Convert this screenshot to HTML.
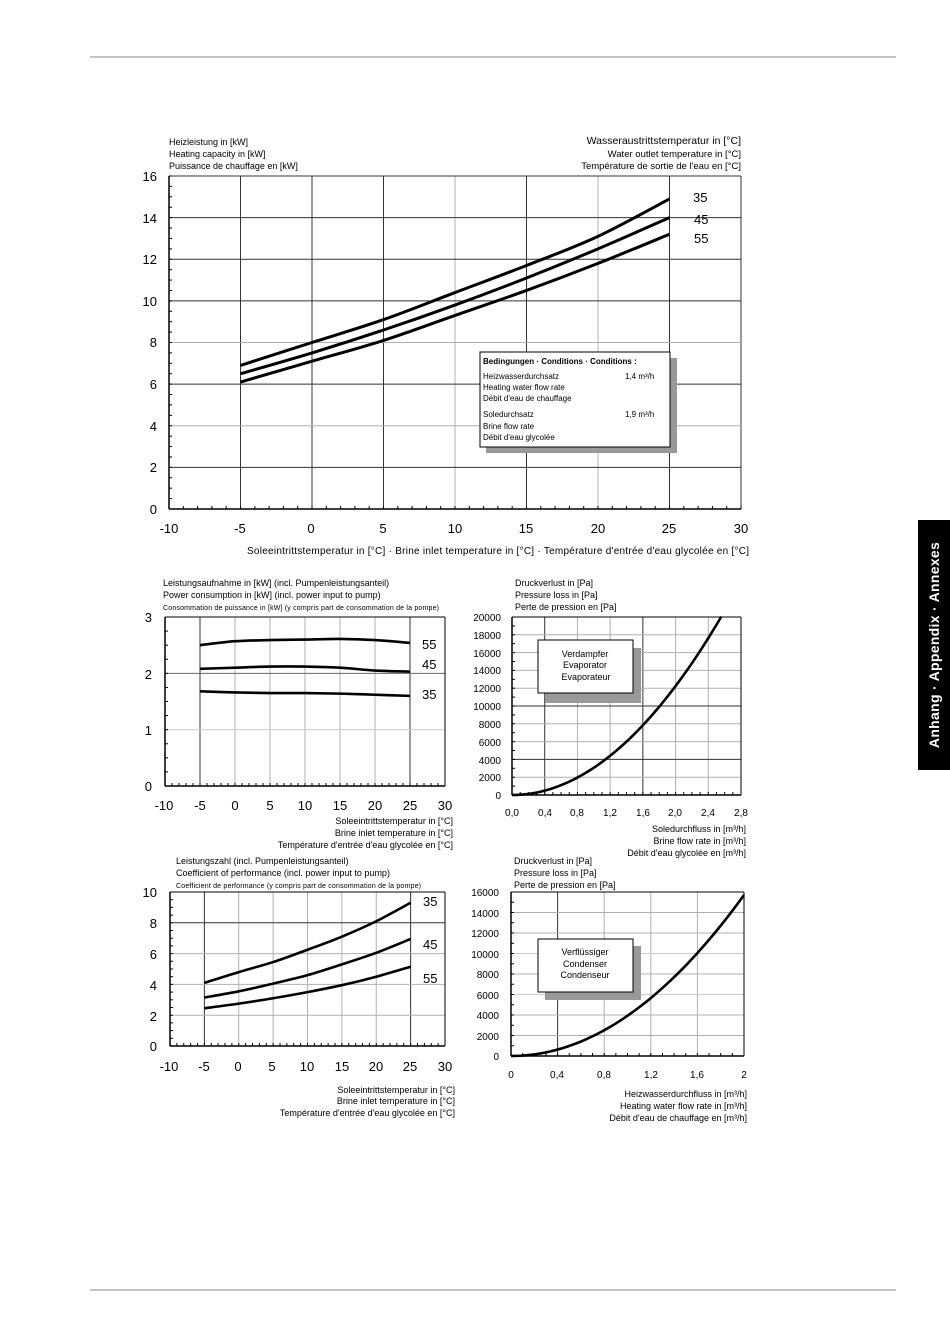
<!DOCTYPE html>
<html><head><meta charset="utf-8"><style>
body{margin:0;background:#fff}
svg{display:block}
text{font-family:"Liberation Sans",sans-serif;fill:#000}
.s{font-size:9px}.m{font-size:13px}.c{font-size:7.5px}.l{font-size:10px}
</style></head><body>
<svg id="g" width="950" height="1344" viewBox="0 0 950 1344" xmlns="http://www.w3.org/2000/svg">
<rect width="950" height="1344" fill="#fff"/>
<line x1="90" y1="57" x2="896" y2="57" stroke="#888" stroke-width="1"/>
<line x1="90" y1="1290" x2="896" y2="1290" stroke="#888" stroke-width="1"/>
<rect x="918" y="520" width="32" height="250" fill="#000"/>
<text transform="translate(939,645) rotate(-90)" text-anchor="middle" style="font-size:14px;font-weight:bold;fill:#fff;letter-spacing:0.3px">Anhang · Appendix · Annexes</text>

<g id="grids"></g>
<g id="curves"></g>

<!-- Main chart texts -->
<text class="s" x="169" y="145">Heizleistung in [kW]</text>
<text class="s" x="169" y="157">Heating capacity in [kW]</text>
<text class="s" x="169" y="169">Puissance de chauffage en [kW]</text>
<text x="741" y="144" text-anchor="end" style="font-size:10.5px">Wasseraustrittstemperatur in [°C]</text>
<text class="s" x="741" y="157" text-anchor="end" style="font-size:9.5px">Water outlet temperature in [°C]</text>
<text class="s" x="741" y="169" text-anchor="end" style="font-size:9.5px">Température de sortie de l'eau en [°C]</text>
<g class="m" text-anchor="end">
<text x="157" y="181">16</text><text x="157" y="223">14</text><text x="157" y="264">12</text><text x="157" y="306">10</text>
<text x="157" y="347">8</text><text x="157" y="389">6</text><text x="157" y="431">4</text><text x="157" y="472">2</text><text x="157" y="514">0</text>
</g>
<g class="m" text-anchor="middle">
<text x="169" y="533">-10</text><text x="240" y="533">-5</text><text x="311" y="533">0</text><text x="383" y="533">5</text><text x="455" y="533">10</text>
<text x="526" y="533">15</text><text x="598" y="533">20</text><text x="669" y="533">25</text><text x="741" y="533">30</text>
</g>
<text x="749" y="554" text-anchor="end" style="font-size:10px" textLength="502">Soleeintrittstemperatur in [°C] · Brine inlet temperature in [°C] · Température d'entrée d'eau glycolée en [°C]</text>
<g class="m"><text x="693" y="202">35</text><text x="694" y="224">45</text><text x="694" y="243">55</text></g>
<rect x="486" y="358" width="191" height="95" fill="#999"/>
<rect x="480" y="352" width="190" height="95" fill="#fff" stroke="#000" stroke-width="1"/>
<text x="483" y="364" style="font-size:8px;font-weight:bold">Bedingungen · Conditions · Conditions :</text>
<g style="font-size:8px">
<text x="483" y="379">Heizwasserdurchsatz</text><text x="625" y="379">1,4 m³/h</text>
<text x="483" y="390">Heating water flow rate</text>
<text x="483" y="401">Débit d'eau de chauffage</text>
<text x="483" y="417">Soledurchsatz</text><text x="625" y="417">1,9 m³/h</text>
<text x="483" y="429">Brine flow rate</text>
<text x="483" y="440">Débit d'eau glycolée</text>
</g>

<!-- Power chart -->
<text class="s" x="163" y="586">Leistungsaufnahme in [kW] (incl. Pumpenleistungsanteil)</text>
<text class="s" x="163" y="598">Power consumption in [kW] (incl. power input to pump)</text>
<text class="c" x="163" y="610" style="font-size:7px" textLength="276">Consommation de puissance in [kW] (y compris part de consommation de la pompe)</text>
<g class="m" text-anchor="end"><text x="152" y="622">3</text><text x="152" y="679">2</text><text x="152" y="735">1</text><text x="152" y="791">0</text></g>
<g class="m" text-anchor="middle">
<text x="164" y="810">-10</text><text x="200" y="810">-5</text><text x="235" y="810">0</text><text x="270" y="810">5</text><text x="305" y="810">10</text>
<text x="340" y="810">15</text><text x="375" y="810">20</text><text x="410" y="810">25</text><text x="445" y="810">30</text>
</g>
<g class="m"><text x="422" y="649">55</text><text x="422" y="669">45</text><text x="422" y="699">35</text></g>
<g class="s" text-anchor="end"><text x="453" y="824">Soleeintrittstemperatur in [°C]</text><text x="453" y="836">Brine inlet temperature in [°C]</text><text x="453" y="848">Température d'entrée d'eau glycolée en [°C]</text></g>

<!-- Evaporator -->
<g class="s"><text x="515" y="586">Druckverlust in [Pa]</text><text x="515" y="598">Pressure loss in [Pa]</text><text x="515" y="610">Perte de pression en [Pa]</text></g>
<g class="s" text-anchor="end" style="font-size:10px">
<text x="501" y="621">20000</text><text x="501" y="639">18000</text><text x="501" y="657">16000</text><text x="501" y="674">14000</text><text x="501" y="692">12000</text>
<text x="501" y="710">10000</text><text x="501" y="728">8000</text><text x="501" y="746">6000</text><text x="501" y="764">4000</text><text x="501" y="781">2000</text><text x="501" y="799">0</text>
</g>
<g text-anchor="middle" style="font-size:10px">
<text x="512" y="816">0,0</text><text x="545" y="816">0,4</text><text x="577" y="816">0,8</text><text x="610" y="816">1,2</text><text x="643" y="816">1,6</text>
<text x="675" y="816">2,0</text><text x="708" y="816">2,4</text><text x="741" y="816">2,8</text>
</g>
<rect x="545" y="648" width="96" height="55" fill="#999"/>
<rect x="538" y="640" width="95" height="53" fill="#fff" stroke="#000"/>
<g class="s" text-anchor="middle"><text x="585" y="657">Verdampfer</text><text x="585" y="668">Evaporator</text><text x="586" y="680">Evaporateur</text></g>
<g class="s" text-anchor="end"><text x="746" y="832">Soledurchfluss in [m³/h]</text><text x="746" y="844">Brine flow rate in [m³/h]</text><text x="746" y="856">Débit d'eau glycolée en [m³/h]</text></g>

<!-- COP -->
<text class="s" x="176" y="864">Leistungszahl (incl. Pumpenleistungsanteil)</text>
<text class="s" x="176" y="876">Coefficient of performance (incl. power input to pump)</text>
<text class="c" x="176" y="888" style="font-size:7px" textLength="245">Coefficient de performance (y compris part de consommation de la pompe)</text>
<g class="m" text-anchor="end"><text x="157" y="897">10</text><text x="157" y="928">8</text><text x="157" y="959">6</text><text x="157" y="990">4</text><text x="157" y="1021">2</text><text x="157" y="1051">0</text></g>
<g class="m" text-anchor="middle">
<text x="169" y="1071">-10</text><text x="204" y="1071">-5</text><text x="238" y="1071">0</text><text x="272" y="1071">5</text><text x="307" y="1071">10</text>
<text x="342" y="1071">15</text><text x="376" y="1071">20</text><text x="410" y="1071">25</text><text x="445" y="1071">30</text>
</g>
<g class="m"><text x="423" y="906">35</text><text x="423" y="949">45</text><text x="423" y="983">55</text></g>
<g class="s" text-anchor="end"><text x="455" y="1093">Soleeintrittstemperatur in [°C]</text><text x="455" y="1104">Brine inlet temperature in [°C]</text><text x="455" y="1116">Température d'entrée d'eau glycolée en [°C]</text></g>

<!-- Condenser -->
<g class="s"><text x="514" y="864">Druckverlust in [Pa]</text><text x="514" y="876">Pressure loss in [Pa]</text><text x="514" y="888">Perte de pression en [Pa]</text></g>
<g text-anchor="end" style="font-size:10px">
<text x="499" y="896">16000</text><text x="499" y="917">14000</text><text x="499" y="937">12000</text><text x="499" y="958">10000</text>
<text x="499" y="978">8000</text><text x="499" y="999">6000</text><text x="499" y="1019">4000</text><text x="499" y="1040">2000</text><text x="499" y="1060">0</text>
</g>
<g text-anchor="middle" style="font-size:10px">
<text x="511" y="1078">0</text><text x="557" y="1078">0,4</text><text x="604" y="1078">0,8</text><text x="651" y="1078">1,2</text><text x="697" y="1078">1,6</text><text x="744" y="1078">2</text>
</g>
<rect x="545" y="946" width="96" height="54" fill="#999"/>
<rect x="538" y="939" width="95" height="53" fill="#fff" stroke="#000"/>
<g class="s" text-anchor="middle"><text x="585" y="955">Verflüssiger</text><text x="585" y="967">Condenser</text><text x="585" y="978">Condenseur</text></g>
<g class="s" text-anchor="end"><text x="747" y="1097">Heizwasserdurchfluss in [m³/h]</text><text x="747" y="1109">Heating water flow rate in [m³/h]</text><text x="747" y="1121">Débit d'eau de chauffage en [m³/h]</text></g>
</svg>
<script>
var NS="http://www.w3.org/2000/svg",G=document.getElementById("grids"),C=document.getElementById("curves");
function ln(p,x1,y1,x2,y2,c,w){var e=document.createElementNS(NS,"line");e.setAttribute("x1",x1);e.setAttribute("y1",y1);e.setAttribute("x2",x2);e.setAttribute("y2",y2);e.setAttribute("stroke",c);e.setAttribute("stroke-width",w||1);p.appendChild(e);}
function path(pts,w){var d="M"+pts[0][0]+","+pts[0][1];for(var i=0;i<pts.length-1;i++){var p0=pts[i-1]||pts[i],p1=pts[i],p2=pts[i+1],p3=pts[i+2]||p2;
d+=" C"+(p1[0]+(p2[0]-p0[0])/6)+","+(p1[1]+(p2[1]-p0[1])/6)+" "+(p2[0]-(p3[0]-p1[0])/6)+","+(p2[1]-(p3[1]-p1[1])/6)+" "+p2[0]+","+p2[1];}
var e=document.createElementNS(NS,"path");e.setAttribute("d",d);e.setAttribute("fill","none");e.setAttribute("stroke","#000");e.setAttribute("stroke-width",w||3);e.setAttribute("stroke-linejoin","round");C.appendChild(e);}
function chart(o){var X=function(v){return o.x0+(v-o.xmin)/(o.xmax-o.xmin)*(o.x1-o.x0)},Y=function(v){return o.y1-(v-o.ymin)/(o.ymax-o.ymin)*(o.y1-o.y0)};
o.vg.forEach(function(g){ln(G,X(g[0]),o.y0,X(g[0]),o.y1,g[1],1)});
o.hg.forEach(function(g){ln(G,o.x0,Y(g[0]),o.x1,Y(g[0]),g[1],1)});
for(var t=o.ymin;t<=o.ymax+1e-9;t+=o.my){ln(G,o.x0,Y(t),o.x0+3,Y(t),"#000",1)}
for(var t=o.xmin;t<=o.xmax+1e-9;t+=o.mx){ln(G,X(t),o.y1,X(t),o.y1-3,"#000",1)}
ln(G,o.x0,o.y0,o.x0,o.y1,"#000",1.5);ln(G,o.x0,o.y1,o.x1,o.y1,"#000",1.5);
if(o.box){ln(G,o.x0,o.y0,o.x1,o.y0,"#000",1);ln(G,o.x1,o.y0,o.x1,o.y1,"#000",1);}
o.series.forEach(function(s){path(s.map(function(p){return[X(p[0]),Y(p[1])]}),o.w)});}
var tx=[-5,0,5,10,15,20,25];function ser(a){return a.map(function(v,i){return[tx[i],v]})}
var gy="#b0b0b0",dk="#333";
chart({x0:169,x1:741,y0:176,y1:509,xmin:-10,xmax:30,ymin:0,ymax:16,mx:1,my:0.5,box:false,w:3,
vg:[[-5,dk],[0,dk],[5,dk],[10,gy],[15,dk],[20,gy],[25,dk],[30,dk]],hg:[[2,dk],[4,gy],[6,dk],[8,gy],[10,dk],[12,dk],[14,dk],[16,dk]],
series:[ser([6.9,8.0,9.1,10.4,11.7,13.1,14.9]),ser([6.5,7.5,8.6,9.8,11.1,12.5,14.0]),ser([6.1,7.1,8.1,9.3,10.5,11.8,13.2])]});
chart({x0:165,x1:445,y0:617,y1:786,xmin:-10,xmax:30,ymin:0,ymax:3,mx:1,my:0.25,box:true,w:2.6,
vg:[[-5,dk],[0,gy],[5,gy],[10,gy],[15,gy],[20,gy],[25,dk]],hg:[[1,"#ccc"],[2,"#666"]],
series:[ser([2.5,2.57,2.59,2.6,2.61,2.59,2.54]),ser([2.08,2.1,2.12,2.12,2.1,2.05,2.03]),ser([1.68,1.66,1.65,1.65,1.64,1.62,1.6])]});
var q=[],q2=[];for(var i=0;i<=32;i++){var v=i*2.56/32;q.push([v,3060*v*v]);}
chart({x0:512,x1:741,y0:617,y1:795,xmin:0,xmax:2.8,ymin:0,ymax:20000,mx:0.1,my:1000,box:true,w:2.6,
vg:[[0.4,dk],[0.8,gy],[1.2,gy],[1.6,dk],[2.0,gy],[2.4,gy]],hg:[[2000,gy],[4000,dk],[6000,gy],[8000,gy],[10000,dk],[12000,gy],[14000,gy],[16000,gy],[18000,gy]],series:[q]});
chart({x0:170,x1:445,y0:892,y1:1046,xmin:-10,xmax:30,ymin:0,ymax:10,mx:1,my:0.5,box:true,w:2.6,
vg:[[-5,dk],[0,gy],[5,gy],[10,gy],[15,gy],[20,gy],[25,dk]],hg:[[2,gy],[4,gy],[6,gy],[8,dk]],
series:[ser([4.1,4.8,5.45,6.25,7.1,8.1,9.3]),ser([3.15,3.55,4.05,4.6,5.3,6.05,6.95]),ser([2.45,2.75,3.1,3.5,3.95,4.5,5.15])]});
for(var i=0;i<=25;i++){var v=i*2/25;q2.push([v,3925*v*v]);}
chart({x0:511,x1:744,y0:892,y1:1056,xmin:0,xmax:2,ymin:0,ymax:16000,mx:0.1,my:1000,box:true,w:2.6,
vg:[[0.4,dk],[0.8,gy],[1.2,gy],[1.6,gy]],hg:[[2000,gy],[4000,gy],[6000,"#ccc"],[8000,gy],[10000,"#ccc"],[12000,gy],[14000,gy]],series:[q2]});
</script>
</body></html>
